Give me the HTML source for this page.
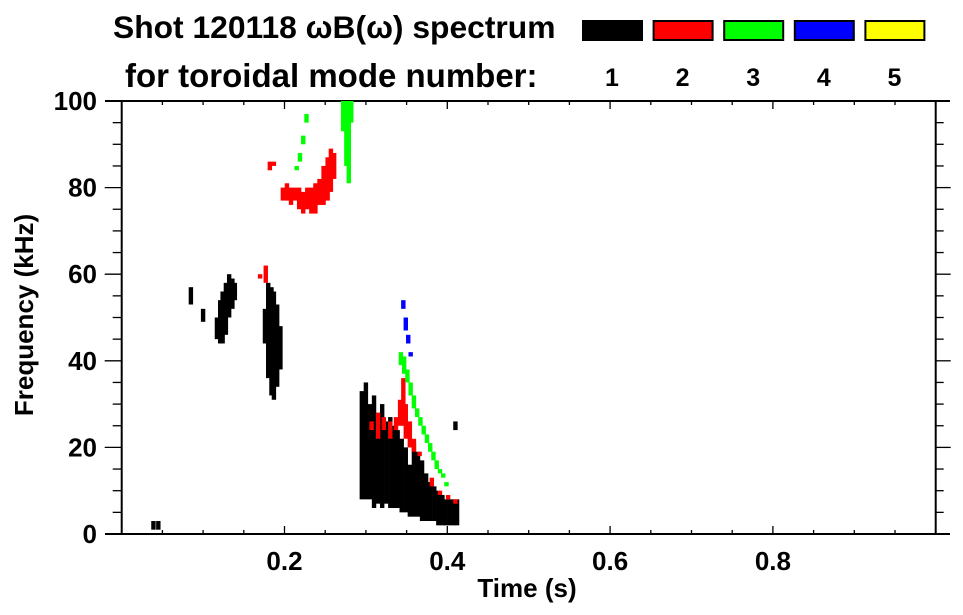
<!DOCTYPE html>
<html><head><meta charset="utf-8"><style>
body{margin:0;background:#fff;}
svg{display:block;font-family:"Liberation Sans",sans-serif;font-weight:bold;}
</style></head><body>
<svg id="chart" width="963" height="615" viewBox="0 0 963 615" xmlns="http://www.w3.org/2000/svg">
<text x="113" y="38" font-size="31.8">Shot 120118 ωB(ω) spectrum</text>
<text x="125" y="87" font-size="33">for toroidal mode number:</text>
<g id="legend"></g>
<g id="axes"></g>
<g id="marks"></g>
<text x="527" y="597" font-size="26" text-anchor="middle">Time (s)</text>
<text transform="translate(33,315) rotate(-90)" font-size="26" text-anchor="middle">Frequency (kHz)</text>
</svg>
<script>
const modeLabels=["1","2","3","4","5"];
const modeColors=["#000000","#ff0000","#00ff00","#0000ff","#ffff00"];
const xTicks=[0.2,0.4,0.6,0.8];
const yTicks=[0,20,40,60,80,100];
// mode 1 (black)
const m1T=[0.039,0.045,0.085,0.100,0.117,0.121,0.124,0.128,0.132,0.136,0.139,0.176,0.180,0.184,0.187,0.191,0.195,0.295,0.300,0.305,0.310,0.315,0.320,0.325,0.330,0.335,0.339,0.344,0.349,0.354,0.359,0.364,0.369,0.374,0.379,0.384,0.389,0.394,0.398,0.403,0.408,0.412,0.410];
const m1Lo=[1,1,53,49,45,44,44,46,50,52,54,44,36,32,31,34,38,8,8,8,6,7,6,7,6,6,6,5,5,4,4,4,3,3,3,3,2,2,2,2,2,2,24];
const m1Hi=[3,3,57,52,50,54,56,58,60,59,58,52,58,57,56,53,48,33,35,30,32,28,30,26,27,25,24,22,20,16,21,19,17,14,12,11,10,9,8,8,8,8,26];
// mode 2 (red)
const m2T=[0.170,0.177,0.182,0.187,0.198,0.203,0.208,0.213,0.218,0.223,0.228,0.233,0.238,0.243,0.248,0.253,0.257,0.261,0.307,0.315,0.322,0.330,0.337,0.342,0.346,0.349,0.354,0.359,0.366,0.381,0.391,0.401,0.410];
const m2Lo=[59,58,84,85,77,77,76,77,75,74,75,74,74,76,76,77,79,82,24,22,24,22,24,25,25,22,20,19,18,11,9,8,7];
const m2Hi=[60,62,86,86,80,81,80,80,80,79,80,80,81,82,85,87,89,88,26,28,27,26,27,31,36,30,26,22,19,13,10,9,8];
// mode 3 (green)
const m3T=[0.215,0.219,0.223,0.227,0.272,0.276,0.279,0.282,0.343,0.347,0.351,0.355,0.359,0.363,0.367,0.371,0.375,0.379,0.383,0.387,0.391,0.395,0.399];
const m3Lo=[84,86,90,95,93,85,81,95,39,37,35,32,29,27,25,23,21,19,17,15,14,13,11];
const m3Hi=[85,88,92,97,100,100,100,100,42,41,38,35,32,29,27,25,23,21,19,17,15,14,12];
// mode 4 (blue)
const m4T=[0.346,0.349,0.352,0.355];
const m4Lo=[52,47,44,41];
const m4Hi=[54,50,46,42];

const X0=121.7,X1=935.7,Y0=534,Y1=101;
const xs=t=>X0+(X1-X0)*t;
const ys=f=>Y0-(Y0-Y1)*f/100;
const NS="http://www.w3.org/2000/svg";
function mk(tag,attrs,parent){const e=document.createElementNS(NS,tag);for(const k in attrs)e.setAttribute(k,attrs[k]);parent.appendChild(e);return e;}
const axes=document.getElementById('axes');
const marks=document.getElementById('marks');
const legend=document.getElementById('legend');

modeLabels.forEach((lab,i)=>{
  const x=582+i*70.6;
  const r=mk('rect',{x:x+1,y:21,width:59,height:19,fill:modeColors[i],stroke:'#000','stroke-width':2},legend);
  
  
  const t=mk('text',{x:x+30,y:86,'font-size':25,'text-anchor':'middle'},legend);
  t.textContent=lab;
  
  
});

const st={stroke:'#000','stroke-width':2};
mk('line',Object.assign({x1:105,y1:Y1,x2:950,y2:Y1},st),axes);
mk('line',Object.assign({x1:105,y1:Y0,x2:950,y2:Y0},st),axes);
mk('line',Object.assign({x1:X0,y1:Y1-1,x2:X0,y2:Y0+1},st),axes);
mk('line',Object.assign({x1:X1,y1:Y1-1,x2:X1,y2:Y0+1},st),axes);
const sl={stroke:'#000','stroke-width':1.3};
for(let i=1;i<20;i++){
  const t=i*0.05, x=xs(t), major=(i%4===0);
  const L=major?8:4;
  mk('line',Object.assign({x1:x,y1:Y1,x2:x,y2:Y1+L},sl),axes);
  mk('line',Object.assign({x1:x,y1:Y0,x2:x,y2:Y0-L},sl),axes);
}
for(let i=1;i<20;i++){
  const f=i*5, y=ys(f), major=(i%4===0);
  const L=major?17:9;
  mk('line',Object.assign({x1:X0,y1:y,x2:X0-L,y2:y},sl),axes);
  mk('line',Object.assign({x1:X1,y1:y,x2:X1+(major?15:8),y2:y},sl),axes);
}
xTicks.forEach(v=>{
  const t=mk('text',{x:xs(v),y:570,'font-size':26,'text-anchor':'middle'},axes);
  t.textContent=v.toFixed(1);
  
  
});
yTicks.forEach(v=>{
  const t=mk('text',{x:97,y:ys(v)+9,'font-size':26,'text-anchor':'end'},axes);
  t.textContent=String(v);
  
  
});

function drawSeries(T,Lo,Hi,color,name){
  T.forEach((t,i)=>{
    const x=xs(t), y1=ys(Hi[i]), y2=ys(Lo[i]);
    const r=mk('rect',{x:x-2.2,y:y1,width:4.4,height:Math.max(2,y2-y1),fill:color},marks);
    
    
  });
}
drawSeries(m1T,m1Lo,m1Hi,modeColors[0],'mode-1');
drawSeries(m2T,m2Lo,m2Hi,modeColors[1],'mode-2');
drawSeries(m3T,m3Lo,m3Hi,modeColors[2],'mode-3');
drawSeries(m4T,m4Lo,m4Hi,modeColors[3],'mode-4');
</script>
</body></html>
